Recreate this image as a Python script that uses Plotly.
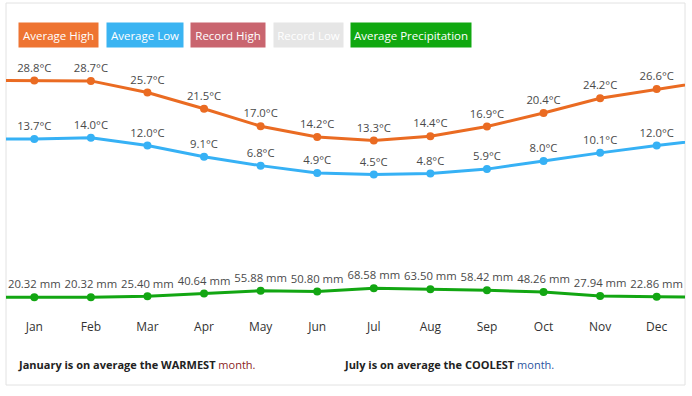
import plotly.graph_objects as go

months = ["Jan", "Feb", "Mar", "Apr", "May", "Jun", "Jul", "Aug", "Sep", "Oct", "Nov", "Dec"]
avg_high = [28.8, 28.7, 25.7, 21.5, 17.0, 14.2, 13.3, 14.4, 16.9, 20.4, 24.2, 26.6]
avg_low = [13.7, 14.0, 12.0, 9.1, 6.8, 4.9, 4.5, 4.8, 5.9, 8.0, 10.1, 12.0]
avg_precip = [20.32, 20.32, 25.40, 40.64, 55.88, 50.80, 68.58, 63.50, 58.42, 48.26, 27.94, 22.86]

legend_items = ["Average High", "Average Low", "Record High", "Record Low", "Average Precipitation"]
legend_colors = ["#ee7432", "#3ab4f2", "#c9656f", "#e6e6e6", "#10a810"]

C_HIGH = "#ea6b22"
C_LOW = "#36b1f5"
C_PREC = "#12a612"
FONT = "Open Sans"
LABEL_COLOR = "#4a4a4a"

x = list(range(len(months)))
# padded line so the line runs to the card edges (first value repeated before, wraps to Jan after)
x_pad = [-1] + x + [len(months)]


def padded(vals):
    return [vals[0]] + vals + [vals[0]]


fig = go.Figure()


def add_series(vals, color, fmt, yaxis):
    fig.add_trace(go.Scatter(x=x_pad, y=padded(vals), mode="lines",
                             line=dict(color=color, width=3), yaxis=yaxis,
                             hoverinfo="skip", showlegend=False))
    fig.add_trace(go.Scatter(x=x, y=vals, mode="markers+text",
                             marker=dict(color=color, size=8),
                             text=[fmt.format(v) for v in vals],
                             textposition="top center",
                             textfont=dict(family=FONT, size=11.3, color=LABEL_COLOR),
                             yaxis=yaxis, showlegend=False, cliponaxis=False))


add_series(avg_high, C_HIGH, "{:.1f}°C", "y")
add_series(avg_low, C_LOW, "{:.1f}°C", "y")
add_series(avg_precip, C_PREC, "{:.2f} mm", "y2")

ML, MR, MT, MB = 6, 7, 60, 94
W, H = 692, 396
pw, ph = W - ML - MR, H - MT - MB


def px_x(px):
    return (px - ML) / pw


def px_y(py):
    return (H - MB - py) / ph


shapes = [dict(type="rect", xref="paper", yref="paper",
               x0=px_x(6), x1=px_x(685), y0=px_y(385), y1=px_y(3),
               line=dict(color="#e2e2e2", width=1), fillcolor="rgba(0,0,0,0)", layer="below")]

annotations = []
legend_boxes = [(19, 98), (107, 183), (191, 265), (274, 343), (351, 471)]
for (x0, x1), name, col in zip(legend_boxes, legend_items, legend_colors):
    annotations.append(dict(xref="paper", yref="paper", x=px_x((x0 + x1) / 2), y=px_y(35),
                            xanchor="center", yanchor="middle", text=name, showarrow=False,
                            bgcolor=col, width=x1 - x0, height=24, borderpad=0,
                            font=dict(family=FONT, size=11.5, color="white")))

annotations.append(dict(xref="paper", yref="paper", x=px_x(16), y=px_y(364), xanchor="left",
                        yanchor="middle", showarrow=False,
                        text="<b>January is on average the WARMEST</b> <span style='color:#8b2323'>month.</span>",
                        font=dict(family=FONT, size=11, color="#222222")))
annotations.append(dict(xref="paper", yref="paper", x=px_x(342), y=px_y(364), xanchor="left",
                        yanchor="middle", showarrow=False,
                        text="<b>July is on average the COOLEST</b> <span style='color:#2b54a0'>month.</span>",
                        font=dict(family=FONT, size=11, color="#222222")))

# temperature axis: 28.8 at y=80.5px, 3.87 px/°C
t_top = 28.8 + (80.5 - MT) / 3.87
t_bot = 28.8 - (H - MB - 80.5) / 3.87
# precipitation axis: 20.32 at y=297.3px, 0.1865 px/mm
p_top = 20.32 + (297.3 - MT) / 0.1865
p_bot = 20.32 - (H - MB - 297.3) / 0.1865

fig.update_layout(
    width=W, height=H,
    margin=dict(l=ML, r=MR, t=MT, b=MB),
    paper_bgcolor="white", plot_bgcolor="white",
    showlegend=False,
    xaxis=dict(range=[-0.5, 11.5], tickvals=x, ticktext=months, showgrid=False, zeroline=False,
               showline=False, ticks="outside", ticklen=14, tickcolor="rgba(0,0,0,0)",
               tickfont=dict(family=FONT, size=12, color="#333333"), fixedrange=True),
    yaxis=dict(range=[t_bot, t_top], visible=False, showgrid=False, zeroline=False, fixedrange=True),
    yaxis2=dict(range=[p_bot, p_top], visible=False, showgrid=False, zeroline=False,
                overlaying="y", fixedrange=True),
    shapes=shapes,
    annotations=annotations,
)

fig.write_html("out.html", config={"displayModeBar": False},
               post_script="document.body.style.margin='0';document.body.style.padding='0';")
